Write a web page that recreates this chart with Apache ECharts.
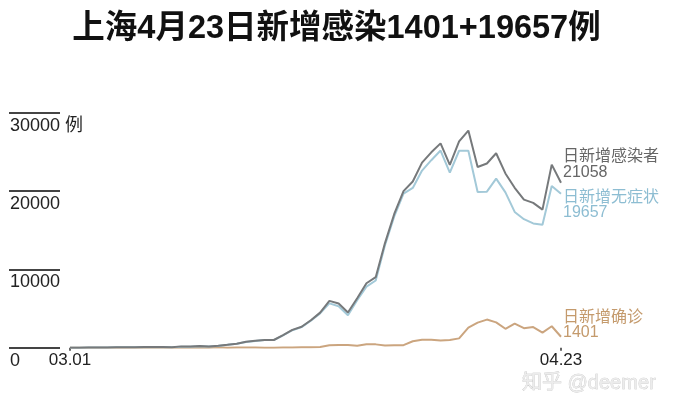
<!DOCTYPE html>
<html>
<head>
<meta charset="utf-8">
<script src="https://cdn.jsdelivr.net/npm/echarts@6/dist/echarts.min.js"></script>
<style>
html,body{margin:0;padding:0;background:#fff;}
#main{width:673px;height:407px;}
</style>
</head>
<body>
<div id="main"></div>
<script>
const dates = ['03.01','03.02','03.03','03.04','03.05','03.06','03.07','03.08','03.09','03.10',
  '03.11','03.12','03.13','03.14','03.15','03.16','03.17','03.18','03.19','03.20',
  '03.21','03.22','03.23','03.24','03.25','03.26','03.27','03.28','03.29','03.30','03.31',
  '04.01','04.02','04.03','04.04','04.05','04.06','04.07','04.08','04.09','04.10',
  '04.11','04.12','04.13','04.14','04.15','04.16','04.17','04.18','04.19','04.20',
  '04.21','04.22','04.23'];
const confirmed = [1,3,2,3,0,3,4,3,4,11,
  5,1,41,9,5,8,57,8,17,24,
  31,4,4,29,38,45,50,96,326,355,358,
  260,438,425,268,311,322,824,1015,1006,914,
  994,1189,2573,3200,3590,3238,2417,3084,2494,2634,
  1931,2736,1401];
const asymptomatic = [1,5,14,16,28,45,51,62,76,64,
  78,64,128,130,197,150,203,366,492,734,
  865,977,979,1580,2231,2631,3450,4381,5656,5298,4144,
  6051,7788,8581,13086,16766,19660,20398,22609,23937,25173,
  22348,25141,25146,19872,19923,21582,19831,17332,16407,15861,
  15698,20634,19657];
const infected = [2,8,16,19,28,48,55,65,80,75,
  83,65,169,139,202,158,260,374,509,758,
  896,981,983,1609,2269,2676,3500,4477,5982,5653,4502,
  6311,8226,9006,13354,17077,19982,21222,23624,24943,26087,
  23342,26330,27719,23072,23513,24820,22248,20416,18901,18495,
  17629,23370,21058];
const yTicks = [0, 10000, 20000, 30000];
const yUnit = '例';
const titleText = '上海4月23日新增感染1401+19657例';
const watermark = '知乎 @deemer';

const FONT = '"Liberation Sans", "Noto Sans CJK SC", sans-serif';
const chart = echarts.init(document.getElementById('main'), null, {renderer: 'canvas'});

function endLbl(color, offY) {
  return {
    show: true,
    distance: 2,
    offset: [0, offY],
    align: 'left',
    formatter: p => '{n|' + p.seriesName + '}\n{v|' + p.value + '}',
    rich: {
      n: {fontSize: 16, lineHeight: 16, color: color, fontFamily: FONT},
      v: {fontSize: 16, lineHeight: 15, color: color, fontFamily: FONT}
    }
  };
}

const firstLast = (i) => i === 0 || i === dates.length - 1;

chart.setOption({
  animation: false,
  backgroundColor: '#fff',
  title: [{
    text: titleText,
    left: 'center',
    top: 8,
    textStyle: {fontSize: 32.5, fontWeight: 'bold', color: '#111', fontFamily: FONT}
  }, {
    text: watermark,
    left: 517,
    top: 368,
    textStyle: {fontSize: 20, fontWeight: 'normal', color: '#ececec', fontFamily: FONT,
      textBorderColor: '#bdbdbd', textBorderWidth: 0.5}
  }],
  grid: [
    {left: 70, right: 112, top: 112.7, bottom: 59.3},
    {left: 9, width: 51, top: 112.7, bottom: 59.3}
  ],
  xAxis: [{
    type: 'category',
    gridIndex: 0,
    data: dates,
    boundaryGap: false,
    axisLine: {show: false},
    axisTick: {show: true, interval: firstLast, length: 3, lineStyle: {color: '#333', width: 1.5}},
    axisLabel: {interval: firstLast, fontSize: 17, color: '#222', margin: 4, fontFamily: FONT},
    splitLine: {show: false}
  }, {
    type: 'value',
    gridIndex: 1,
    show: false
  }],
  yAxis: [{
    type: 'value',
    gridIndex: 0,
    min: yTicks[0], max: yTicks[yTicks.length - 1], interval: 10000,
    show: false
  }, {
    type: 'value',
    gridIndex: 1,
    min: yTicks[0], max: yTicks[yTicks.length - 1], interval: 10000,
    axisLine: {show: false},
    axisTick: {show: false},
    splitLine: {show: true, lineStyle: {color: '#444', width: 2}},
    axisLabel: {
      inside: true, margin: 1, align: 'left', verticalAlign: 'top',
      padding: [4, 0, 0, 0],
      fontSize: 18, color: '#222', fontFamily: FONT,
      formatter: v => v === yTicks[yTicks.length - 1] ? v + ' ' + yUnit : String(v)
    }
  }],
  series: [{
    name: '日新增确诊',
    type: 'line',
    data: confirmed,
    showSymbol: false,
    lineStyle: {color: '#cba57f', width: 2},
    itemStyle: {color: '#cba57f'},
    endLabel: endLbl('#c49a6c', -12),
    z: 2
  }, {
    name: '日新增无症状',
    type: 'line',
    data: asymptomatic,
    showSymbol: false,
    lineStyle: {color: '#a3c9d8', width: 2},
    itemStyle: {color: '#a3c9d8'},
    endLabel: endLbl('#8dbdd2', 11),
    z: 3
  }, {
    name: '日新增感染者',
    type: 'line',
    data: infected,
    showSymbol: false,
    lineStyle: {color: '#76797b', width: 2},
    itemStyle: {color: '#76797b'},
    endLabel: endLbl('#666', -18.5),
    z: 4
  }]
});
</script>
</body>
</html>
